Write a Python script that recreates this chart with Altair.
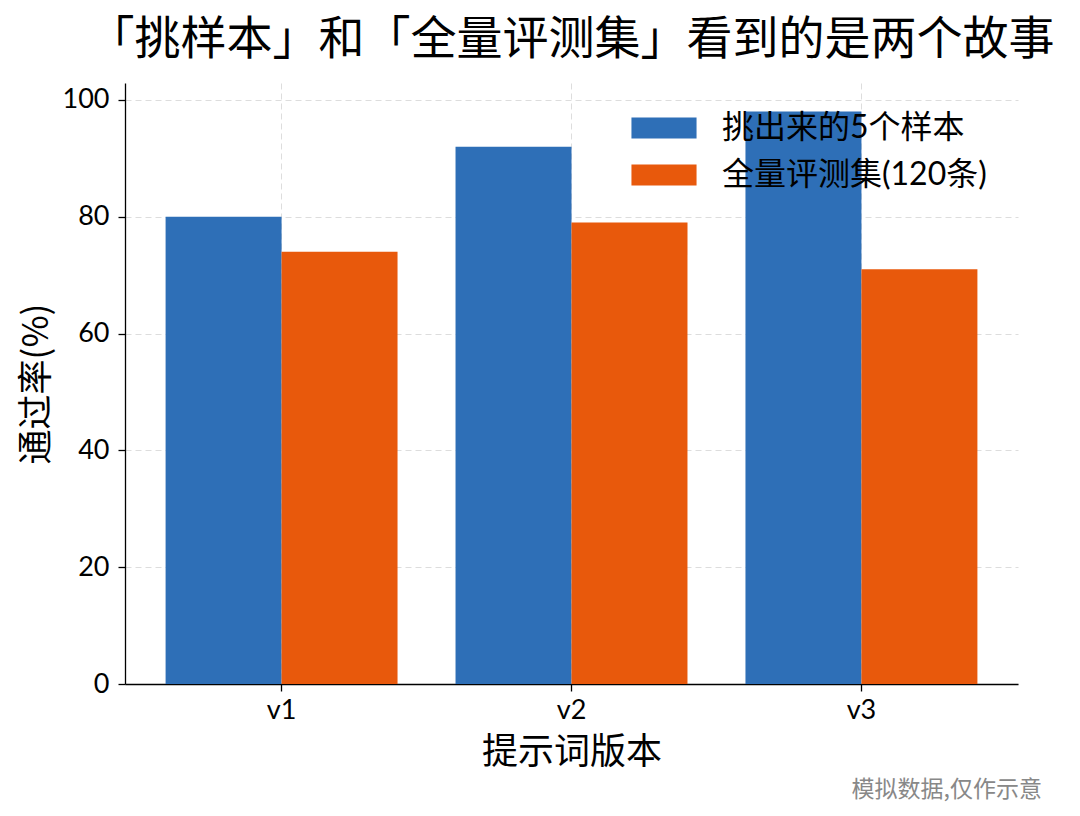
import altair as alt
import pandas as pd

# ---- data ----
versions = ["v1", "v2", "v3"]
series = ["挑出来的5个样本", "全量评测集(120条)"]
sample_rate = [80, 92, 98]
full_rate = [74, 79, 71]
colors = ["#2E6FB7", "#E8590C"]
y_ticks = [0, 20, 40, 60, 80, 100]
title_text = "「挑样本」和「全量评测集」看到的是两个故事"
x_title = "提示词版本"
y_title = "通过率(%)"
note_text = "模拟数据,仅作示意"

rows = []
for i, v in enumerate(versions):
    rows.append({"version": v, "series": series[0], "rate": sample_rate[i]})
    rows.append({"version": v, "series": series[1], "rate": full_rate[i]})
df = pd.DataFrame(rows)

CJK = "Noto Sans CJK SC"
NUM = "Lato, 'Noto Sans CJK SC'"

bars = alt.Chart(df).mark_bar().encode(
    x=alt.X(
        "version:N",
        sort=versions,
        scale=alt.Scale(paddingInner=0.2, paddingOuter=0.14),
        axis=alt.Axis(
            title=x_title,
            labelAngle=0,
            bandPosition=0.5,
            grid=True,
            gridDash=[6, 4],
            gridColor="#dddddd",
            gridWidth=1,
            tickSize=7,
            tickColor="black",
            tickWidth=1.3,
            domainColor="black",
            domainWidth=1.3,
            labelFont=NUM,
            labelFontSize=27,
            labelColor="black",
            labelPadding=6,
            titleFont=CJK,
            titleFontSize=36,
            titleFontWeight="normal",
            titleColor="black",
            titlePadding=12,
        ),
    ),
    xOffset=alt.XOffset("series:N", sort=series,
                        scale=alt.Scale(paddingInner=0, paddingOuter=0)),
    y=alt.Y(
        "rate:Q",
        scale=alt.Scale(domain=[0, 102.9], nice=False, zero=True),
        axis=alt.Axis(
            values=y_ticks,
            title=y_title,
            grid=True,
            gridDash=[6, 4],
            gridColor="#dddddd",
            gridWidth=1,
            tickSize=7,
            tickColor="black",
            tickWidth=1.3,
            domainColor="black",
            domainWidth=1.3,
            labelFont=NUM,
            labelFontSize=27,
            labelColor="black",
            labelPadding=9,
            titleFont=CJK,
            titleFontSize=35,
            titleFontWeight="normal",
            titleColor="black",
            titlePadding=8,
        ),
    ),
    color=alt.Color(
        "series:N",
        sort=series,
        scale=alt.Scale(domain=series, range=colors),
        legend=alt.Legend(
            title=None,
            orient="none",
            legendX=523,
            legendY=29,
            padding=0,
            symbolType="M-3.1,-1H3.1V1H-3.1Z",
            symbolSize=441,
            symbolStrokeWidth=0,
            symbolOpacity=1,
            labelOffset=42,
            labelFont=NUM,
            labelFontSize=32,
            labelColor="black",
            labelLimit=500,
            rowPadding=15,
        ),
    ),
)

note = alt.Chart(alt.Data(values=[{"t": note_text}])).mark_text(
    align="right", baseline="middle", font=CJK, fontSize=23, color="#888888"
).encode(text="t:N", x=alt.value(917), y=alt.value(707))

chart = alt.layer(bars, note).properties(
    width=893,
    height=601,
    title=alt.TitleParams(
        title_text, font=CJK, fontSize=46, fontWeight="normal", color="black",
        anchor="middle", offset=19,
    ),
    autosize=alt.AutoSizeParams(type="none"),
    padding={"left": 117, "top": 75, "right": 54, "bottom": 124},
).configure_view(stroke=None)

chart.save("out.html", embed_options={"renderer": "svg", "actions": False})
